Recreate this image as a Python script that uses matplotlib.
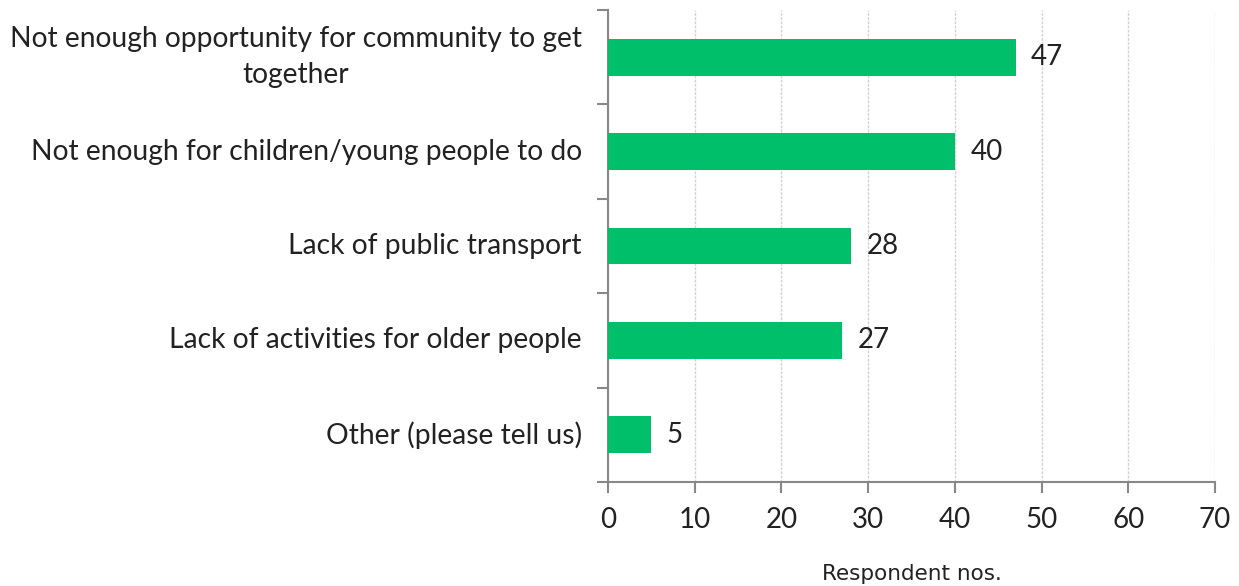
import matplotlib.pyplot as plt

categories = [
    "Not enough opportunity for community to get\ntogether",
    "Not enough for children/young people to do",
    "Lack of public transport",
    "Lack of activities for older people",
    "Other (please tell us)",
]
values = [47, 40, 28, 27, 5]
xticks = [0, 10, 20, 30, 40, 50, 60, 70]

plt.rcParams['font.family'] = ['Lato', 'DejaVu Sans']

fig = plt.figure(figsize=(12.39, 5.86), dpi=100)
ax = fig.add_axes([0.4907, 0.1775, 0.4899, 0.8055])

ypos = list(range(len(categories)))
ax.barh(ypos, values, height=0.39, color='#00BF6A', zorder=3)
for y, v in zip(ypos, values):
    ax.text(v + 1.8, y, str(v), va='center', ha='left', fontsize=20, color='#222222')

ax.set_xlim(0, 70)
ax.set_ylim(len(categories) - 0.5, -0.5)
ax.set_xticks(xticks)
ax.set_xticklabels([str(t) for t in xticks], fontsize=20, color='#222222')
ax.tick_params(axis='x', length=8, width=1.5, color='#888888', pad=10)

# category labels drawn as text, ticks at category boundaries
ax.set_yticks([i - 0.5 for i in range(len(categories) + 1)])
ax.set_yticklabels([])
ax.tick_params(axis='y', length=8, width=1.5, color='#888888')
for y, c in zip(ypos, categories):
    ax.text(-3.0, y, c, ha='right', va='center', fontsize=20.3, color='#222222',
            multialignment='center', linespacing=1.45)

ax.grid(axis='x', color='#d2d2d2', linestyle=(0, (2, 1)), linewidth=1, zorder=0)
for s in ['top', 'right']:
    ax.spines[s].set_visible(False)
for s in ['left', 'bottom']:
    ax.spines[s].set_color('#888888')
    ax.spines[s].set_linewidth(1.5)

ax.set_xlabel('Respondent nos.', fontsize=15.5, color='#222222', labelpad=22,
              family='DejaVu Sans')

fig.savefig('out.png', dpi=100)
